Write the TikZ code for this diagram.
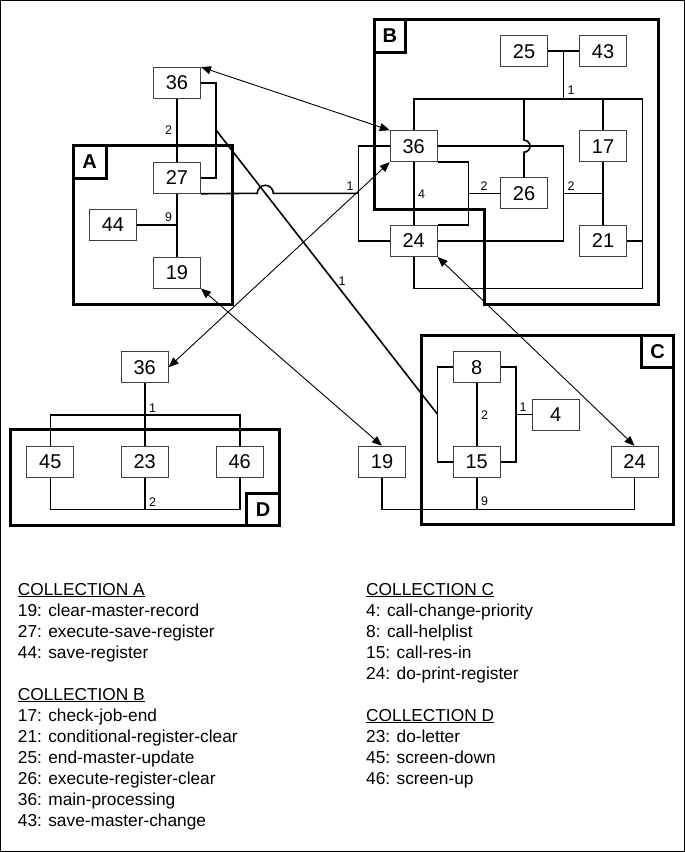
\documentclass[tikz,border=0pt]{standalone}
\usepackage{fontspec}
\setmainfont{Liberation Sans}
\usetikzlibrary{arrows.meta}
\begin{document}
\begin{tikzpicture}[x=1pt,y=-1pt,
  box/.style={draw=black!75,line width=0.9pt,fill=white,minimum width=47pt,minimum height=31pt,inner sep=0pt,font=\fontsize{20}{24}\selectfont},
  conn/.style={line width=1.6pt},
  coll/.style={line width=3pt},
  tagtxt/.style={inner sep=0pt,font=\fontsize{20}{24}\selectfont\bfseries},
  lbl/.style={font=\fontsize{12.5}{14}\selectfont, inner sep=0pt},
  dbl/.style={line width=0.9pt,{Triangle[length=10pt,width=8pt]}-{Triangle[length=10pt,width=8pt]}},
  leg/.style={anchor=base west, font=\fontsize{17.3}{20}\selectfont, inner sep=0pt}
]
\useasboundingbox (0,0) rectangle (685,852);
\draw[line width=1pt] (0.5,0.5) rectangle (684.5,851.5);

% collection outlines
\draw[coll] (73.3,145.7) rectangle (232.3,304);
\draw[coll] (73.3,145.7) rectangle (106,178);
\node[tagtxt] (tA) at (89.7,162) {A};
\draw[coll] (374,19.3) -- (658.3,19.3) -- (658.3,304) -- (484.3,304) -- (484.3,209.3) -- (374,209.3) -- cycle;
\draw[coll] (374,19.3) rectangle (405.7,52.3);
\node[tagtxt] (tB) at (389.8,35.8) {B};
\draw[coll] (421,335) rectangle (673.3,524);
\draw[coll] (641.7,335) rectangle (673.3,367.7);
\node[tagtxt] (tC) at (657.5,351.3) {C};
\draw[coll] (10,429.3) rectangle (279.3,525);
\draw[coll] (246.7,493.3) rectangle (279.3,525);
\node[tagtxt] (tD) at (263,509.2) {D};

% nodes
\node[box] (a36) at (177,83) {36};
\node[box] (a27) at (177,177.8) {27};
\node[box] (a44) at (113,225) {44};
\node[box] (a19) at (177,272.5) {19};

\node[box] (b36) at (413.7,146.2) {36};
\node[box] (b24) at (413.7,241) {24};
\node[box] (b25) at (524,51.2) {25};
\node[box] (b43) at (603,51.2) {43};
\node[box] (b17) at (603,146.2) {17};
\node[box] (b21) at (603,241) {21};
\node[box] (b26) at (524,193.3) {26};

\node[box] (c8) at (476.7,367.2) {8};
\node[box] (c15) at (476.7,461.7) {15};
\node[box] (c4) at (555.8,414.5) {4};
\node[box] (c19) at (382,461.7) {19};
\node[box] (c24) at (634.5,461.7) {24};

\node[box] (d36) at (144.7,367.2) {36};
\node[box] (d45) at (50.3,461.7) {45};
\node[box] (d23) at (144.7,461.7) {23};
\node[box] (d46) at (239.7,461.7) {46};

% collection A connectors
\draw[conn] (a36.south) -- (a27.north);
\draw[conn] (a36.east) -| (216,130) |- (a27.east);
\coordinate (dA) at (216,130);
\draw[conn] (a27.south) -- (a19.north);
\draw[conn] (a44.east) -- (a44.east -| a27.south);
\node[lbl] (l1) at (168.5,130.5) {2};
\node[lbl] (l2) at (168.5,217) {9};

% 27 to B bracket with jump
\coordinate (jB) at (358.3,193.3);
\draw[conn] (a27.south east) -- (257.3,193.3) arc (180:360:8) -- (jB);

% collection B connectors
\draw[conn] (b25.east) -- (b43.west);
\draw[conn] (563.3,51.2) -- (563.3,99);
\node[lbl] (l3) at (571,90) {1};
\draw[conn] (b36.north) |- (642.3,99) -- (642.3,288.3) -| (b24.south);
\draw[conn] (b26.north) -- (524,152.2) arc (90:-90:6) -- (524,99);
\draw[conn] (b17.north) -- (603,99);
\draw[conn] (b21.east) -- (642.3,241);
\draw[conn] (b17.south) -- (b21.north);
\draw[conn] (b36.east) -| (563.3,193.3) |- (b24.east);
\draw[conn] (563.3,193.3) -- (603,193.3);
\node[lbl] (l4) at (571,186) {2};
\draw[conn] (b36.south east) -| (468.3,193.3) |- (b24.north east);
\draw[conn] (468.3,193.3) -- (b26.west);
\node[lbl] (l5) at (484,186) {2};
\draw[conn] (b36.south) -- (b24.north);
\node[lbl] (l6) at (421.5,194) {4};
\draw[conn] (b36.west) -| (jB) |- (b24.west);
\node[lbl] (l7) at (350,186) {1};

% collection C connectors
\coordinate (cL) at (437.3,414);
\draw[conn] (c8.west) -| (cL) |- (c15.west);
\draw[conn] (c8.east) -| (516,414.5) |- (c15.east);
\draw[conn] (516,414.5) -- (c4.west);
\node[lbl] (l8) at (523,407) {1};
\draw[conn] (c8.south) -- (c15.north);
\node[lbl] (l9) at (484.5,415) {2};
\draw[conn] (c19.south) |- (476.7,509.3) -| (c24.south);
\draw[conn] (c15.south) -- (476.7,509.3);
\node[lbl] (l10) at (484.5,501.5) {9};

% diagonal A bracket to C bracket
\draw[conn] (dA) -- (cL);
\node[lbl] (l11) at (342,281) {1};

% collection D connectors
\draw[conn] (d36.south) -- (d23.north);
\draw[conn] (d45.north) |- (144.7,415) -| (d46.north);
\node[lbl] (l12) at (152.5,408) {1};
\draw[conn] (d45.south) |- (144.7,509.3) -| (d46.south);
\draw[conn] (d23.south) -- (144.7,509.3);
\node[lbl] (l13) at (152.5,502) {2};

% double arrows
\draw[dbl] (a36.north east) -- (b36.north west);
\draw[dbl] (b36.south west) -- (d36.east);
\draw[dbl] (a19.south east) -- (c19.north);
\draw[dbl] (b24.south east) -- (c24.north);

% legend
\node[leg] (g1) at (17.7,595) {\underline{COLLECTION A}};
\node[leg] (g2) at (17.7,616) {19: clear-master-record};
\node[leg] (g3) at (17.7,637) {27: execute-save-register};
\node[leg] (g4) at (17.7,658) {44: save-register};
\node[leg] (g5) at (17.7,700) {\underline{COLLECTION B}};
\node[leg] (g6) at (17.7,721) {17: check-job-end};
\node[leg] (g7) at (17.7,742) {21: conditional-register-clear};
\node[leg] (g8) at (17.7,763) {25: end-master-update};
\node[leg] (g9) at (17.7,784) {26: execute-register-clear};
\node[leg] (g10) at (17.7,805) {36: main-processing};
\node[leg] (g11) at (17.7,826) {43: save-master-change};

\node[leg] (h1) at (366,595) {\underline{COLLECTION C}};
\node[leg] (h2) at (366,616) {4: call-change-priority};
\node[leg] (h3) at (366,637) {8: call-helplist};
\node[leg] (h4) at (366,658) {15: call-res-in};
\node[leg] (h5) at (366,679) {24: do-print-register};
\node[leg] (h6) at (366,721) {\underline{COLLECTION D}};
\node[leg] (h7) at (366,742) {23: do-letter};
\node[leg] (h8) at (366,763) {45: screen-down};
\node[leg] (h9) at (366,784) {46: screen-up};
\end{tikzpicture}
\end{document}
